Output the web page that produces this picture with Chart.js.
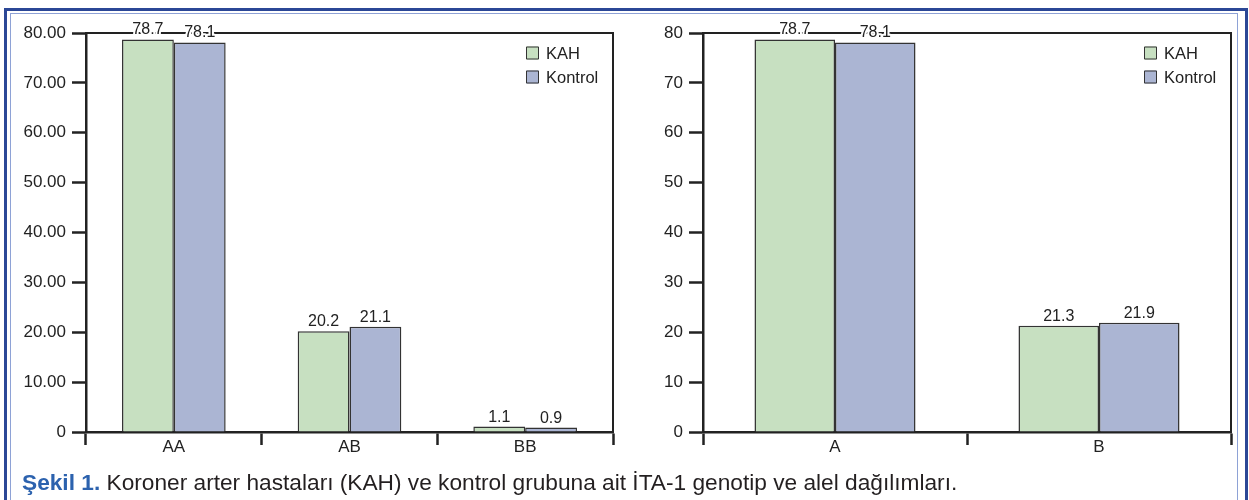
<!DOCTYPE html>
<html>
<head>
<meta charset="utf-8">
<script src="https://cdn.jsdelivr.net/npm/chart.js@4.4.1/dist/chart.umd.min.js"></script>
<style>
  html, body { margin: 0; padding: 0; background: #fff; }
  #wrap { position: relative; width: 1249px; height: 500px; overflow: hidden; background: #fff;
          font-family: "Liberation Sans", Arial, Helvetica, sans-serif; }
  .frame { position: absolute; }
  #outer { left: 4px; top: 8px; width: 1238px; height: 520px;
           border-left: 3px solid #2b4796; border-top: 3px solid #2b4796; border-right: 3px solid #2b4796; }
  #inner { left: 10px; top: 13px; width: 1226px; height: 520px;
           border-left: 1.5px solid #8ea2d6; border-top: 1.5px solid #8ea2d6; border-right: 1.5px solid #8ea2d6; }
  canvas { position: absolute; top: 0; }
  #c1 { left: 0; }
  #c2 { left: 620px; }
  #caption { position: absolute; left: 22px; top: 469px; font-size: 22.7px; color: #231f20; white-space: nowrap; }
  #caption b { color: #2c62ae; }
</style>
</head>
<body>
<div id="wrap">
  <div class="frame" id="outer"></div>
  <div class="frame" id="inner"></div>
  <canvas id="c1" width="640" height="470"></canvas>
  <canvas id="c2" width="629" height="470"></canvas>
  <div id="caption"><b>Şekil 1.</b> Koroner arter hastaları (KAH) ve kontrol grubuna ait İTA-1 genotip ve alel dağılımları.</div>
</div>
<script>
// Genotype distribution (%)
const genotypeLabels = ['AA', 'AB', 'BB'];
const genotypeKAH = [78.7, 20.2, 1.1];
const genotypeKontrol = [78.1, 21.1, 0.9];

// Allele distribution (%)
const alleleLabels = ['A', 'B'];
const alleleKAH = [78.7, 21.3];
const alleleKontrol = [78.1, 21.9];

const seriesNames = ['KAH', 'Kontrol'];
const yTicks = [0, 10, 20, 30, 40, 50, 60, 70, 80];

const GREEN = '#c7e0c1';
const BLUE = '#abb5d3';
const INK = '#222222';
const FONT = '"Liberation Sans", Arial, Helvetica, sans-serif';

Chart.defaults.font.family = FONT;
Chart.defaults.color = INK;

// Box top/right edges, in-plot legend and value labels
const decor = {
  id: 'decor',
  afterDatasetsDraw(chart) {
    const { ctx, chartArea: a } = chart;
    ctx.save();
    ctx.strokeStyle = INK;
    ctx.lineWidth = 2;
    ctx.beginPath();
    ctx.moveTo(a.left, a.top);
    ctx.lineTo(a.right, a.top);
    ctx.lineTo(a.right, a.bottom);
    ctx.stroke();

    // value labels above bars, with a white halo
    ctx.font = '16px ' + FONT;
    ctx.textAlign = 'center';
    ctx.textBaseline = 'alphabetic';
    ctx.lineJoin = 'round';
    chart.data.datasets.forEach((ds, di) => {
      chart.getDatasetMeta(di).data.forEach((bar, i) => {
        const txt = ds.data[i].toFixed(1);
        ctx.strokeStyle = '#fff';
        ctx.lineWidth = 4;
        ctx.strokeText(txt, bar.x, bar.y - 5);
        ctx.fillStyle = INK;
        ctx.fillText(txt, bar.x, bar.y - 5);
      });
    });

    // legend
    ctx.font = '16.5px ' + FONT;
    ctx.textAlign = 'left';
    ctx.textBaseline = 'middle';
    const sx = a.right - 87;
    chart.data.datasets.forEach((ds, di) => {
      const cy = a.top + 20 + di * 24;
      ctx.fillStyle = ds.backgroundColor;
      ctx.fillRect(sx, cy - 6.5, 13, 13);
      ctx.lineWidth = 1;
      ctx.strokeStyle = '#333';
      ctx.strokeRect(sx + 0.5, cy - 6, 12, 12);
      ctx.fillStyle = INK;
      ctx.fillText(ds.label, sx + 20, cy + 1);
    });
    ctx.restore();
  }
};

function makeChart(id, labels, kah, kontrol, yAxisWidth, rightPad, catPct, tickFmt) {
  const canvas = document.getElementById(id);
  return new Chart(canvas, {
    type: 'bar',
    data: {
      labels: labels,
      datasets: [
        { label: seriesNames[0], data: kah, backgroundColor: GREEN, borderColor: '#333', borderWidth: 1.5 },
        { label: seriesNames[1], data: kontrol, backgroundColor: BLUE, borderColor: '#333', borderWidth: 1.5 }
      ]
    },
    options: {
      responsive: false,
      animation: false,
      devicePixelRatio: 1,
      layout: { padding: { top: 33, right: rightPad, left: 0, bottom: 0 } },
      datasets: { bar: { categoryPercentage: catPct, barPercentage: 1 } },
      plugins: { legend: { display: false }, tooltip: { enabled: false } },
      scales: {
        x: {
          grid: { display: true, offset: true, drawOnChartArea: false, drawTicks: true,
                  tickLength: 13, tickWidth: 2.5, tickColor: INK },
          border: { display: true, color: INK, width: 2.5 },
          ticks: { font: { size: 17 }, color: INK, padding: -8 },
          afterFit(s) { s.height = 38; }
        },
        y: {
          min: 0, max: 80,
          afterBuildTicks(s) { s.ticks = yTicks.map(v => ({ value: v })); },
          grid: { display: true, drawOnChartArea: false, drawTicks: true,
                  tickLength: 14, tickWidth: 2.5, tickColor: INK },
          border: { display: true, color: INK, width: 2.5 },
          ticks: { font: { size: 17 }, color: INK, padding: 6, callback: tickFmt },
          afterFit(s) { s.width = yAxisWidth; }
        }
      }
    },
    plugins: [decor]
  });
}

makeChart('c1', genotypeLabels, genotypeKAH, genotypeKontrol, 86, 27, 0.59,
  v => (v === 0 ? '0' : Number(v).toFixed(2)));
makeChart('c2', alleleLabels, alleleKAH, alleleKontrol, 83, 18, 0.61,
  v => String(v));
</script>
</body>
</html>
